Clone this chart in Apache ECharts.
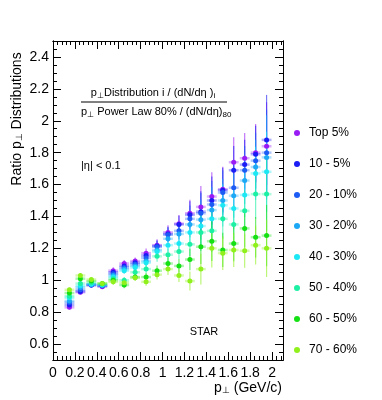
<!DOCTYPE html>
<html>
<head>
<meta charset="utf-8">
<script src="https://cdn.jsdelivr.net/npm/echarts@6/dist/echarts.min.js"></script>
<style>
  html, body { margin: 0; padding: 0; background: #fff; }
  #chart { width: 382px; height: 400px; }
</style>
</head>
<body>
<div id="chart"></div>
<script>
// pT bin centres (GeV/c)
var ptBins = [0.15, 0.25, 0.35, 0.45, 0.55, 0.65, 0.75, 0.85, 0.95, 1.05,
              1.15, 1.25, 1.35, 1.45, 1.55, 1.65, 1.75, 1.85, 1.95];

// ratio values, one array per centrality class
var top5   = [0.83, 0.925, 0.97, 0.96, 1.06, 1.105, 1.12, 1.17, 1.22, 1.30, 1.355, 1.42, 1.46, 1.525, 1.57, 1.74, 1.765, 1.80, 1.84];
var c10_5  = [0.845, 0.93, 0.97, 0.965, 1.05, 1.09, 1.11, 1.155, 1.215, 1.29, 1.35, 1.41, 1.43, 1.50, 1.565, 1.69, 1.725, 1.79, 1.88];
var c20_10 = [0.86, 0.94, 0.97, 0.965, 1.04, 1.08, 1.10, 1.14, 1.21, 1.285, 1.31, 1.385, 1.42, 1.475, 1.55, 1.58, 1.69, 1.75, 1.80];
var c30_20 = [0.87, 0.955, 0.975, 0.97, 1.03, 1.07, 1.09, 1.12, 1.19, 1.26, 1.29, 1.35, 1.38, 1.44, 1.50, 1.53, 1.625, 1.71, 1.77];
var c40_30 = [0.89, 0.965, 0.975, 0.97, 1.02, 1.06, 1.08, 1.11, 1.18, 1.22, 1.23, 1.30, 1.34, 1.385, 1.47, 1.45, 1.535, 1.67, 1.68];
var c50_40 = [0.90, 0.98, 0.985, 0.975, 1.01, 1.00, 1.05, 1.07, 1.15, 1.16, 1.18, 1.225, 1.30, 1.31, 1.385, 1.35, 1.435, 1.54, 1.54];
var c60_50 = [0.92, 1.01, 0.995, 0.98, 1.00, 0.97, 1.02, 1.02, 1.06, 1.105, 1.09, 1.13, 1.21, 1.245, 1.19, 1.23, 1.325, 1.27, 1.28];
var c70_60 = [0.94, 1.03, 1.005, 0.98, 0.99, 0.985, 1.015, 0.99, 1.035, 1.07, 1.03, 0.995, 1.07, 1.20, 1.17, 1.19, 1.185, 1.22, 1.20];

// relative size of the vertical error bars at each bin
var relErr = [0.015, 0.015, 0.015, 0.015, 0.02, 0.02, 0.02, 0.025, 0.03, 0.035,
              0.04, 0.06, 0.09, 0.10, 0.09, 0.09, 0.09, 0.10, 0.15];

var classNames = ['Top 5%', '10 - 5%', '20 - 10%', '30 - 20%', '40 - 30%', '50 - 40%', '60 - 50%', '70 - 60%'];
var classValues = [top5, c10_5, c20_10, c30_20, c40_30, c50_40, c60_50, c70_60];
var classColors = ['#9a1cf5', '#1c1cf5', '#1c5cf5', '#1ca8f5', '#1ce8f5', '#1cf0a4', '#14e014', '#90f01c'];

var xLabels = [0, 0.2, 0.4, 0.6, 0.8, 1, 1.2, 1.4, 1.6, 1.8, 2];
var yLabels = [0.6, 0.8, 1, 1.2, 1.4, 1.6, 1.8, 2, 2.2, 2.4];

var FONT = 'Liberation Sans';
var halfBin = 0.045;

function ticks(from, to, step) {
    var out = [];
    var n = Math.round((to - from) / step);
    for (var i = 0; i <= n; i++) out.push(Math.round((from + i * step) * 1000) / 1000);
    return out;
}
var xMinor = ticks(0, 2.08, 0.04);
var yMinor = ticks(0.5, 2.5, 0.05);

function axisBase(extra) {
    var a = {
        type: 'value',
        gridIndex: 0,
        axisLine: { show: true, onZero: false, lineStyle: { color: '#000', width: 1 } },
        splitLine: { show: false },
        axisLabel: { show: false },
        axisTick: { show: true, inside: true, length: 4, lineStyle: { color: '#000' } }
    };
    for (var k in extra) a[k] = extra[k];
    return a;
}

var chart = echarts.init(document.getElementById('chart'), null, { renderer: 'canvas' });

var series = [];
classNames.forEach(function (name, s) {
    var color = classColors[s];
    var pts = [], bars = [];
    ptBins.forEach(function (x, i) {
        var y = classValues[s][i];
        pts.push([x, y]);
        bars.push([x, y, y * relErr[i]]);
    });
    series.push({
        name: name,
        type: 'custom',
        xAxisIndex: 0, yAxisIndex: 0,
        itemStyle: { color: color },
        data: bars,
        z: 2,
        renderItem: function (params, api) {
            var x = api.value(0), y = api.value(1), e = api.value(2);
            var t = api.coord([x, y + e]), b = api.coord([x, y - e]);
            var l = api.coord([x - halfBin, y]), r = api.coord([x + halfBin, y]);
            return {
                type: 'group',
                children: [
                    { type: 'line', shape: { x1: t[0], y1: t[1], x2: b[0], y2: b[1] },
                      style: { stroke: color, lineWidth: 1.2, opacity: 0.6 } },
                    { type: 'line', shape: { x1: l[0], y1: l[1], x2: r[0], y2: r[1] },
                      style: { stroke: color, lineWidth: 2.5, opacity: 0.35 } }
                ]
            };
        }
    });
    series.push({
        name: name,
        type: 'scatter',
        xAxisIndex: 0, yAxisIndex: 0,
        symbol: 'circle',
        symbolSize: 5,
        itemStyle: { color: color, opacity: 1 },
        data: pts,
        z: 3
    });
});

var option = {
    animation: false,
    backgroundColor: '#fff',
    grid: { left: 53, right: 99, top: 41, bottom: 40 },
    xAxis: [
        axisBase({
            min: 0, max: 2.1, position: 'bottom',
            axisTick: { show: true, inside: true, length: 8, customValues: xLabels, lineStyle: { color: '#000' } },
            axisLabel: {
                show: true, customValues: xLabels, margin: 6,
                fontFamily: FONT, fontSize: 14, color: '#000',
                formatter: function (v) { return String(Math.round(v * 10) / 10); }
            }
        }),
        axisBase({ min: 0, max: 2.1, position: 'bottom', axisTick: { show: true, inside: true, length: 4, customValues: xMinor, lineStyle: { color: '#000' } } }),
        axisBase({ min: 0, max: 2.1, position: 'top', axisTick: { show: true, inside: true, length: 4, customValues: xMinor, lineStyle: { color: '#000' } } }),
        axisBase({ min: 0, max: 2.1, position: 'top', axisTick: { show: true, inside: true, length: 8, customValues: xLabels, lineStyle: { color: '#000' } } })
    ],
    yAxis: [
        axisBase({
            min: 0.5, max: 2.5, position: 'left',
            axisTick: { show: true, inside: true, length: 8, customValues: yLabels, lineStyle: { color: '#000' } },
            axisLabel: {
                show: true, customValues: yLabels, margin: 4,
                fontFamily: FONT, fontSize: 14, color: '#000',
                formatter: function (v) { return String(Math.round(v * 10) / 10); }
            }
        }),
        axisBase({ min: 0.5, max: 2.5, position: 'left', axisTick: { show: true, inside: true, length: 4, customValues: yMinor, lineStyle: { color: '#000' } } }),
        axisBase({ min: 0.5, max: 2.5, position: 'right', axisTick: { show: true, inside: true, length: 8, customValues: yLabels, lineStyle: { color: '#000' } } }),
        axisBase({ min: 0.5, max: 2.5, position: 'right', axisTick: { show: true, inside: true, length: 4, customValues: yMinor, lineStyle: { color: '#000' } } })
    ],
    legend: {
        data: classNames,
        orient: 'vertical',
        left: 289, top: 122,
        icon: 'circle',
        itemWidth: 14, itemHeight: 6,
        itemGap: 19,
        selectedMode: false,
        textStyle: { fontFamily: FONT, fontSize: 12, lineHeight: 12, color: '#000' }
    },
    graphic: [
        {
            type: 'text', x: 17, y: 119, rotation: Math.PI / 2,
            style: {
                text: 'Ratio p{s|⊥} Distributions',
                fontFamily: FONT, fontSize: 14, fill: '#000',
                align: 'center', verticalAlign: 'middle',
                rich: { s: { fontFamily: FONT, fontSize: 9, verticalAlign: 'bottom', padding: [6, 0, 0, 0] } }
            }
        },
        {
            type: 'text', x: 282, y: 388,
            style: {
                text: 'p{s|⊥} (GeV/c)',
                fontFamily: FONT, fontSize: 14, fill: '#000',
                align: 'right', verticalAlign: 'middle',
                rich: { s: { fontFamily: FONT, fontSize: 9, verticalAlign: 'bottom', padding: [6, 0, 0, 0] } }
            }
        },
        {
            type: 'text', x: 153, y: 93,
            style: {
                text: 'p{s|⊥}Distribution i / (dN/dη ){s|i}',
                fontFamily: FONT, fontSize: 11, fill: '#000',
                align: 'center', verticalAlign: 'middle',
                rich: { s: { fontFamily: FONT, fontSize: 8, verticalAlign: 'bottom', padding: [5, 0, 0, 0] } }
            }
        },
        { type: 'line', shape: { x1: 81, y1: 102, x2: 227, y2: 102 }, style: { stroke: '#000', lineWidth: 1 } },
        {
            type: 'text', x: 81, y: 112,
            style: {
                text: 'p{s|⊥} Power Law 80% / (dN/dη){s|80}',
                fontFamily: FONT, fontSize: 11, fill: '#000',
                align: 'left', verticalAlign: 'middle',
                rich: { s: { fontFamily: FONT, fontSize: 8, verticalAlign: 'bottom', padding: [5, 0, 0, 0] } }
            }
        },
        {
            type: 'text', x: 81, y: 166,
            style: { text: '|η| < 0.1', fontFamily: FONT, fontSize: 11, fill: '#000', align: 'left', verticalAlign: 'middle' }
        },
        {
            type: 'text', x: 204, y: 332,
            style: { text: 'STAR', fontFamily: FONT, fontSize: 11, fill: '#000', align: 'center', verticalAlign: 'middle' }
        }
    ],
    series: series
};

chart.setOption(option);
</script>
</body>
</html>
